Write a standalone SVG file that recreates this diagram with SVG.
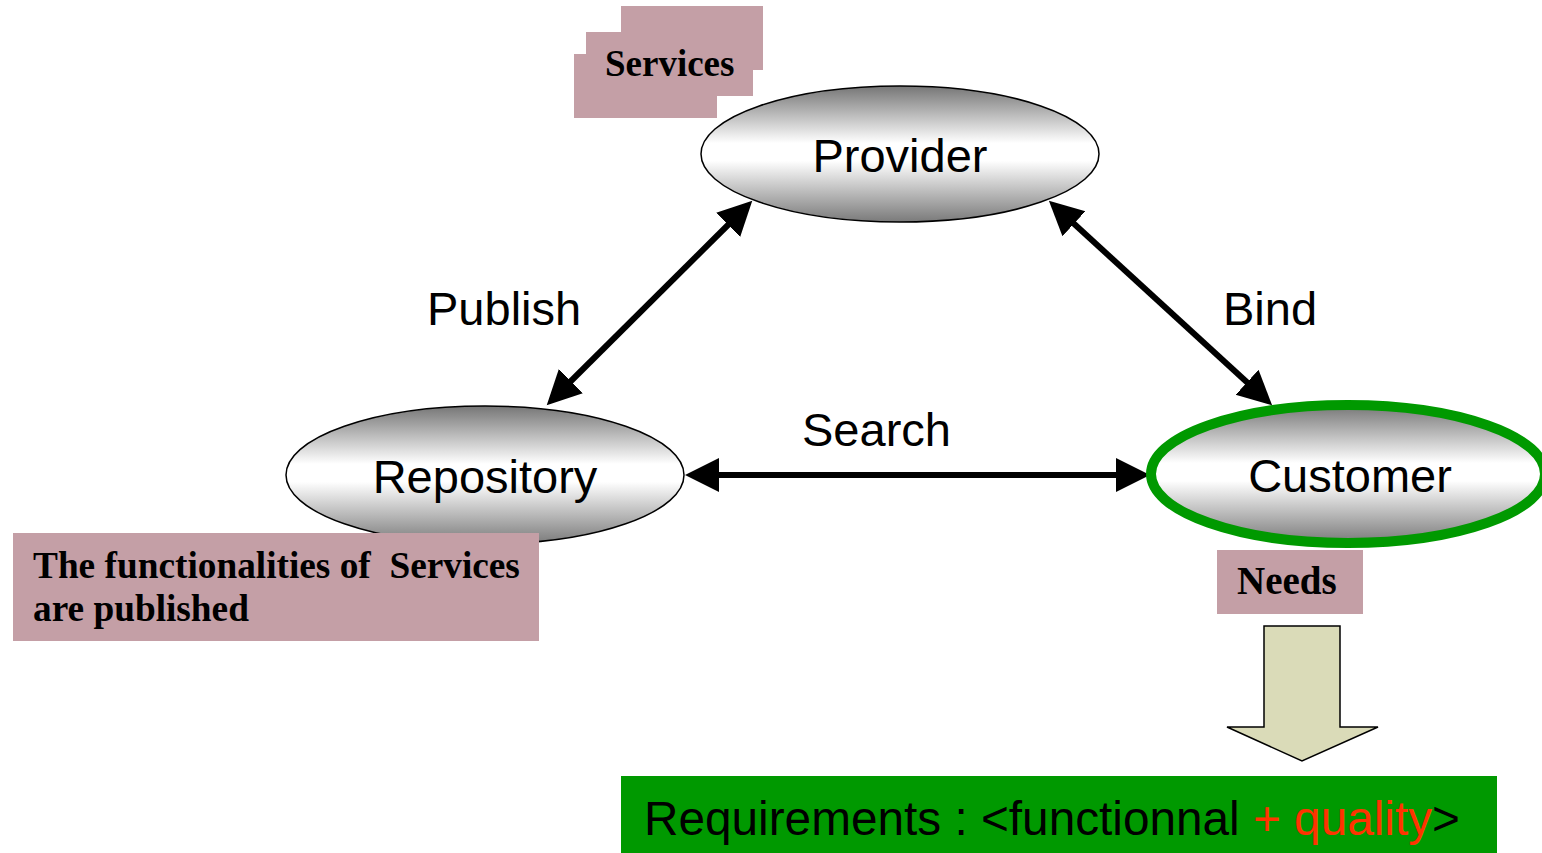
<svg xmlns="http://www.w3.org/2000/svg" width="1542" height="853" viewBox="0 0 1542 853">
  <style>
    .role { font-family: "Liberation Sans", Arial, sans-serif; font-size: 47px; fill: #000; }
    .note { font-family: "Liberation Serif", "Times New Roman", serif; font-weight: bold; font-size: 37px; fill: #000; white-space: pre; }
    .tag { fill: #C49FA6; }
    .node { stroke: #000; stroke-width: 1.5; fill: url(#shade); }
    .link { stroke: #000; stroke-width: 6; fill: none; marker-start: url(#head); marker-end: url(#head); }
  </style>
  <defs>
    <linearGradient id="shade" x1="0" y1="0" x2="0" y2="1">
      <stop offset="0" stop-color="#767676"/>
      <stop offset="0.42" stop-color="#ffffff"/>
      <stop offset="0.55" stop-color="#ffffff"/>
      <stop offset="1" stop-color="#7a7a7a"/>
    </linearGradient>
    <marker id="head" markerUnits="userSpaceOnUse" markerWidth="40" markerHeight="40" viewBox="0 -20 40 40" refX="4" refY="0" orient="auto-start-reverse">
      <path d="M0,-17 L34,0 L0,17 z" fill="#000"/>
    </marker>
  </defs>

  <rect width="1542" height="853" fill="#fff"/>

  <!-- stacked "Services" tag -->
  <g id="services">
    <rect class="tag" x="621" y="6" width="142" height="64"/>
    <rect class="tag" x="586" y="32" width="167" height="64"/>
    <rect class="tag" x="574" y="54" width="143" height="64"/>
    <text class="note" x="605" y="76">Services</text>
  </g>

  <!-- connectors -->
  <g id="connectors">
    <line class="link" x1="568" y1="384" x2="731" y2="222"/>
    <line class="link" x1="1071" y1="221" x2="1250" y2="385"/>
    <line class="link" x1="715" y1="475" x2="1120" y2="475"/>
    <text class="role" x="427" y="325">Publish</text>
    <text class="role" x="1223" y="325">Bind</text>
    <text class="role" x="802" y="446">Search</text>
  </g>

  <g id="provider">
    <ellipse class="node" cx="900" cy="154" rx="199" ry="68"/>
    <text class="role" x="900" y="172" text-anchor="middle">Provider</text>
  </g>

  <g id="repository">
    <ellipse class="node" cx="485" cy="475" rx="199" ry="69"/>
    <text class="role" x="485" y="493" text-anchor="middle">Repository</text>
  </g>

  <g id="customer">
    <ellipse class="node" cx="1348" cy="474" rx="197" ry="69" style="stroke:#009900;stroke-width:10"/>
    <text class="role" x="1350" y="492" text-anchor="middle">Customer</text>
  </g>

  <g id="published-note">
    <rect class="tag" x="13" y="533" width="526" height="108"/>
    <text class="note" x="33" y="578" style="font-size:37.3px">The functionalities of  Services</text>
    <text class="note" x="33" y="621" style="font-size:37.3px">are published</text>
  </g>

  <g id="needs">
    <rect class="tag" x="1217" y="550" width="146" height="64"/>
    <text class="note" x="1237" y="594" style="font-size:39px">Needs</text>
  </g>

  <g id="needs-arrow">
    <path d="M1264,626 L1340,626 L1340,727 L1378,727 L1302,761 L1227,727 L1264,727 z" fill="#DADBB8" stroke="#000" stroke-width="1.5"/>
  </g>

  <g id="requirements">
    <rect x="621" y="776" width="876" height="77" fill="#009900"/>
    <text x="644" y="835" font-family="Liberation Sans, Arial, sans-serif" font-size="48" textLength="816" lengthAdjust="spacingAndGlyphs" fill="#000">Requirements : &lt;functionnal <tspan fill="#FF3300">+ quality</tspan>&gt;</text>
  </g>
</svg>
